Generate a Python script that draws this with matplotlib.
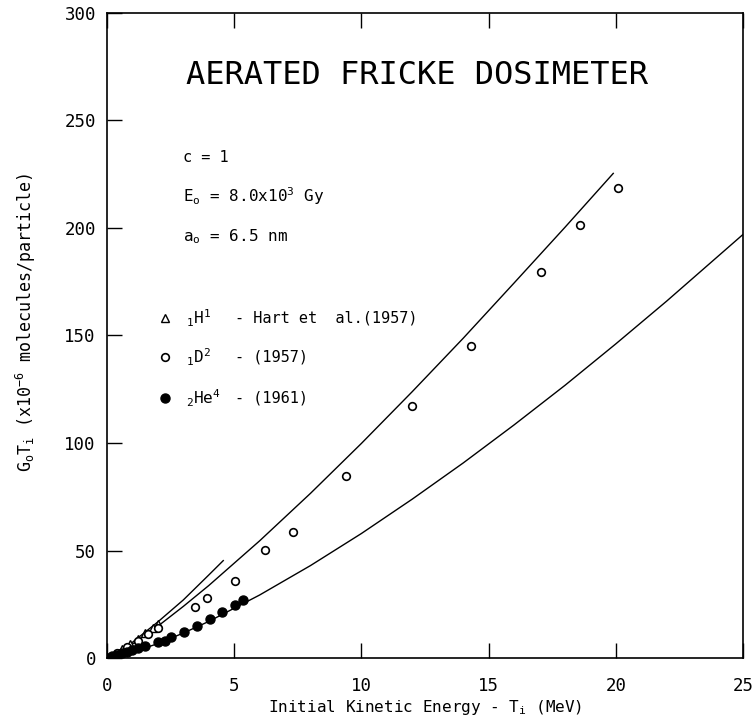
import matplotlib.pyplot as plt

plt.rcParams['font.family'] = ['DejaVu Sans Mono', 'DejaVu Sans']
plt.rcParams['mathtext.fontset'] = 'custom'
plt.rcParams['mathtext.rm'] = 'DejaVu Sans Mono'
plt.rcParams['mathtext.it'] = 'DejaVu Sans Mono'
plt.rcParams['mathtext.default'] = 'regular'

# theory curves
h1_curve_x = [0, 1, 2, 3, 4, 4.57]
h1_curve_y = [0, 7.3, 16.8, 27.0, 38.6, 45.3]

d2_curve_x = [0, 1, 2, 3, 4, 6, 8, 10, 12, 14, 16, 18, 19.9]
d2_curve_y = [0, 6.5, 14.8, 24.0, 33.7, 54.5, 76.6, 99.8, 123.9, 148.7, 174.4, 200.3, 225.4]

he4_curve_x = [0, 1, 2, 3, 4, 6, 8, 10, 12, 14, 16, 18, 20, 22, 25]
he4_curve_y = [0, 2.7, 6.7, 11.6, 17.0, 29.3, 43.0, 57.9, 73.9, 90.7, 108.4, 126.8, 146.1, 166.0, 197.0]

# measured points
h1_x = [0.3, 0.6, 0.9, 1.2, 1.5, 1.8, 2.0]
h1_y = [1.8, 4.0, 6.5, 9.0, 11.5, 14.0, 16.0]

d2_x = [0.4, 0.8, 1.2, 1.6, 2.0, 3.45, 3.92, 5.02, 6.20, 7.31, 9.38, 11.97, 14.32, 17.07, 18.60, 20.07]
d2_y = [2.5, 5.0, 8.0, 11.0, 14.0, 23.7, 27.9, 35.8, 50.2, 58.7, 84.8, 117.4, 145.3, 179.5, 201.4, 218.5]

he4_x = [0.0, 0.2, 0.4, 0.6, 0.8, 1.0, 1.2, 1.49, 2.01, 2.28, 2.51, 3.03, 3.54, 4.04, 4.53, 5.02, 5.33]
he4_y = [0.0, 0.8, 1.5, 2.3, 3.0, 3.8, 4.6, 5.6, 7.6, 8.1, 9.6, 12.2, 14.9, 18.1, 21.4, 24.7, 27.0]

x_ticks = [0, 5, 10, 15, 20, 25]
y_ticks = [0, 50, 100, 150, 200, 250, 300]

fig = plt.figure(figsize=(7.52, 7.18), dpi=100)
ax = fig.add_axes([107 / 752, 60 / 718, 636 / 752, 645 / 718])

ax.plot(h1_curve_x, h1_curve_y, color='black', lw=1.0)
ax.plot(d2_curve_x, d2_curve_y, color='black', lw=1.0)
ax.plot(he4_curve_x, he4_curve_y, color='black', lw=1.0)

ax.plot(h1_x, h1_y, '^', ms=6, mfc='white', mec='black', mew=1.0, ls='none')
ax.plot(d2_x, d2_y, 'o', ms=5.5, mfc='white', mec='black', mew=1.2, ls='none')
ax.plot(he4_x, he4_y, 'o', ms=6.5, color='black', ls='none')

ax.set_xlim(0, 25)
ax.set_ylim(0, 300)
ax.set_xticks(x_ticks)
ax.set_yticks(y_ticks)
ax.set_xticklabels([str(v) for v in x_ticks])
ax.set_yticklabels([str(v) for v in y_ticks])
ax.tick_params(direction='in', length=11, width=1.0, labelsize=12.5, top=True)
ax.tick_params(axis='x', pad=14)
ax.tick_params(axis='y', pad=8)
for s in ax.spines.values():
    s.set_linewidth(1.2)

ax.set_xlabel('Initial Kinetic Energy - T$_i$ (MeV)', fontsize=11.5, labelpad=2)
ax.set_ylabel('G$_o$T$_i$ (x10$^{-6}$ molecules/particle)', fontsize=12)
ax.yaxis.set_label_coords(-0.108, 0.52)

ax.text(12.17, 271, 'AERATED FRICKE DOSIMETER', fontsize=23, ha='center', va='center')

ax.text(2.98, 233, 'c = 1', fontsize=11, va='center')
ax.text(2.98, 215, 'E$_o$ = 8.0x10$^3$ Gy', fontsize=11.5, va='center')
ax.text(2.98, 196, 'a$_o$ = 6.5 nm', fontsize=11.5, va='center')

# hand-drawn legend
ax.plot([2.28], [158], '^', ms=6, mfc='white', mec='black', mew=1.0)
ax.plot([2.28], [140], 'o', ms=5.5, mfc='white', mec='black', mew=1.2)
ax.plot([2.28], [121], 'o', ms=6.5, color='black')
ax.text(3.12, 158, '$_1$H$^1$', fontsize=11.5, va='center')
ax.text(3.12, 140, '$_1$D$^2$', fontsize=11.5, va='center')
ax.text(3.12, 121, '$_2$He$^4$', fontsize=11.5, va='center')
ax.text(5.05, 158, '- Hart et  al.(1957)', fontsize=11, va='center')
ax.text(5.05, 140, '- (1957)', fontsize=11, va='center')
ax.text(5.05, 121, '- (1961)', fontsize=11, va='center')

fig.savefig('out.png', dpi=100, facecolor='white')
